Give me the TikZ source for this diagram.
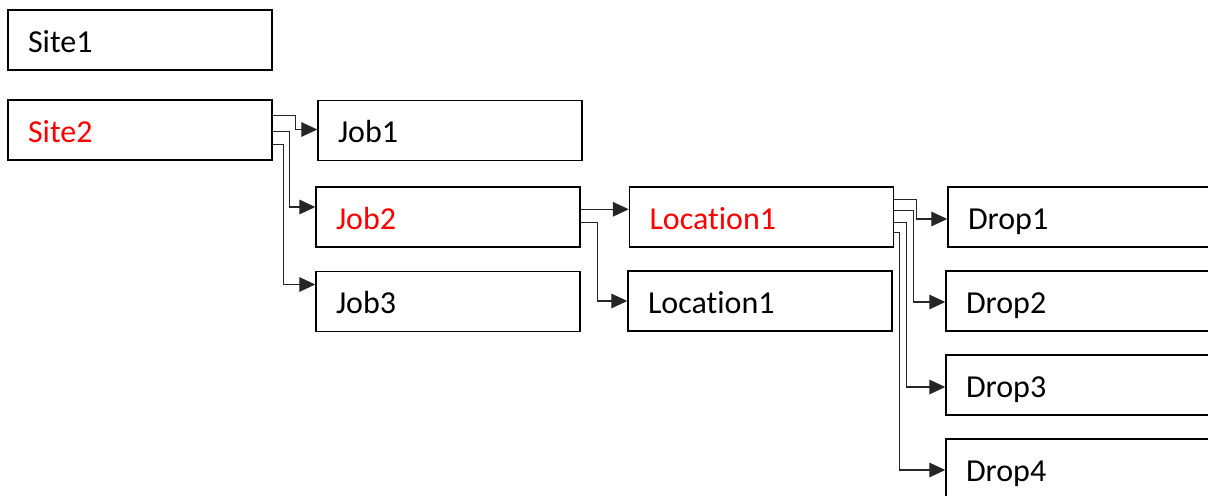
\documentclass[tikz,border=0pt]{standalone}
\usepackage{fontspec}
\setmainfont[Ligatures=NoCommon]{Carlito}
\usetikzlibrary{arrows.meta,calc}

\tikzset{
  box/.style={draw,line width=1.1pt,minimum width=198pt,minimum height=45pt,
    text width=168pt,inner xsep=15pt,align=left,text height=20pt,text depth=2pt,
    font=\fontsize{24}{28}\selectfont},
  sel/.style={text=red},
  conn/.style={draw=black!85,line width=0.9pt,-{Triangle[length=12pt,width=11pt]}},
}

\begin{document}
\begin{tikzpicture}[x=0.75pt,y=-0.75pt]
    \useasboundingbox (0,0) rectangle (1208,496);
    \clip (0,0) rectangle (1208,496);

    % sites
    \node[box] (site1) at (140,40) {Site1};
    \node[box,sel] (site2) at (140,130) {Site2};

    % jobs
    \node[box] (job1) at (450,130.5) {Job1};
    \node[box,sel] (job2) at (448,217) {Job2};
    \node[box] (job3) at (448,301.5) {Job3};

    % locations
    \node[box,sel] (loca) at (761.5,217) {Location1};
    \node[box] (locb) at (760,301) {Location1};

    % drops
    \node[box] (drop1) at (1080,217) {Drop1};
    \node[box] (drop2) at (1078,301) {Drop2};
    \node[box] (drop3) at (1078,385) {Drop3};
    \node[box] (drop4) at (1078,469) {Drop4};

    \draw[conn] ($(site2.north east)+(0,16)$) -- ++(23,0) |- ($(job1.west)+(0,-1)$);
    \draw[conn] ($(site2.north east)+(0,32)$) -- ++(17,0) |- ($(job2.west)+(0,-10)$);
    \draw[conn] ($(site2.north east)+(0,45)$) -- ++(11,0) |- ($(job3.west)+(0,-17)$);

    \draw[conn] ($(job2.north east)+(0,23)$) -- ($(loca.north west)+(0,23)$);
    \draw[conn] ($(job2.north east)+(0,36)$) -- ++(17,0) |- (locb.west);

    \draw[conn] ($(loca.north east)+(0,13)$) -- ++(22,0) |- ($(drop1.west)+(0,2)$);
    \draw[conn] ($(loca.north east)+(0,24)$) -- ++(19,0) |- ($(drop2.west)+(0,1)$);
    \draw[conn] ($(loca.north east)+(0,36)$) -- ++(12,0) |- ($(drop3.west)+(0,2)$);
    \draw[conn] ($(loca.north east)+(0,46)$) -- ++(5,0) |- ($(drop4.west)+(0,1)$);
\end{tikzpicture}
\end{document}
